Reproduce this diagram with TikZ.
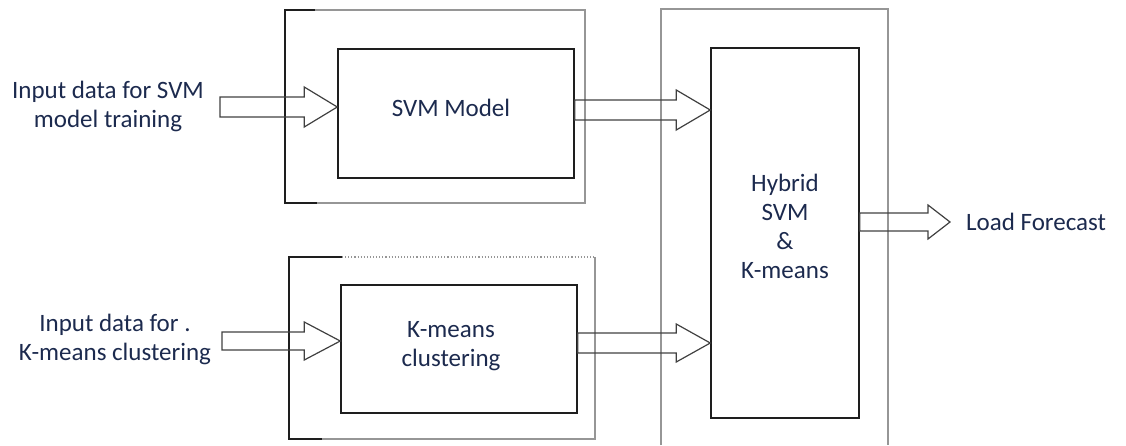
\documentclass[tikz,border=0pt]{standalone}
\usepackage{fontspec}
\setmainfont{Carlito}
\usetikzlibrary{calc}
\definecolor{txtc}{RGB}{28,42,78}
\definecolor{frameg}{RGB}{150,150,150}
\definecolor{edgec}{RGB}{30,30,30}
\tikzset{
 box/.style={draw=edgec, line width=1.5pt, rectangle, inner sep=0pt},
 lbl/.style={text=txtc, font=\fontsize{25}{29}\selectfont, align=center, inner sep=0pt},
 barrow/.style={draw=edgec!85, line width=1.2pt, line join=miter},
 framedark/.style={draw=edgec, line width=1.4pt},
 framelight/.style={draw=frameg, line width=1.1pt},
}
% start, end, shaft half width, head half width, head length
\newcommand\blockarrow[5]{%
 \draw[barrow] let \p1=(#1), \p2=(#2) in
 (\x1,\y1+#3) -- (\x2-#5,\y1+#3) -- (\x2-#5,\y1+#4) -- (\x2,\y1) --
 (\x2-#5,\y1-#4) -- (\x2-#5,\y1-#3) -- (\x1,\y1-#3) -- cycle;}
\begin{document}
\begin{tikzpicture}[x=1pt,y=-1pt]
\useasboundingbox (0,0) rectangle (1126,445);
% frames
\draw[framelight] (315,10) -- (585,10) -- (585,203) -- (317,203);
\draw[framedark] (315,10) -- (285,10) -- (285,203) -- (317,203);
\draw[framelight, dotted] (342,257) -- (595,257);
\draw[framelight] (595,257) -- (595,439) -- (322,439);
\draw[framedark] (342,257) -- (289,257) -- (289,439) -- (322,439);
\draw[framelight] (661,445) -- (661,9) -- (888,9) -- (888,445);
% boxes
\node[box, minimum width=236pt, minimum height=129pt] (svm) at (456,113.5) {};
\node[box, minimum width=236pt, minimum height=128pt] (km) at (459,349) {};
\node[box, minimum width=148pt, minimum height=370pt] (hyb) at (785,233) {};
% labels
\node[lbl] (svmt) at (451,108) {SVM Model};
\node[lbl] (kmt) at (451,346) {K-means\\clustering};
\node[lbl] (hybt) at (785,226) {Hybrid\\SVM\\\&\\K-means};
\node[lbl] (in1t) at (108,106) {Input data for SVM\\model training};
\node[lbl] (in2t) at (115,339) {Input data for .\\K-means clustering};
\node[lbl, anchor=west] (out) at (966,222) {Load Forecast};
% arrow free ends
\coordinate (in1) at (220,107);
\coordinate (in2) at (222,341);
% arrows
\blockarrow{in1}{svm.west}{10pt}{20pt}{33pt}
\blockarrow{in2}{km.west}{9pt}{19pt}{36pt}
\blockarrow{$(svm.east)+(0,-3.5)$}{hyb.west}{10pt}{20pt}{34pt}
\blockarrow{$(km.east)+(0,-6)$}{hyb.west}{10pt}{19pt}{34pt}
\blockarrow{$(hyb.east)+(0,-11)$}{$(out.west)+(-16,0)$}{9pt}{17pt}{22pt}
\end{tikzpicture}
\end{document}
